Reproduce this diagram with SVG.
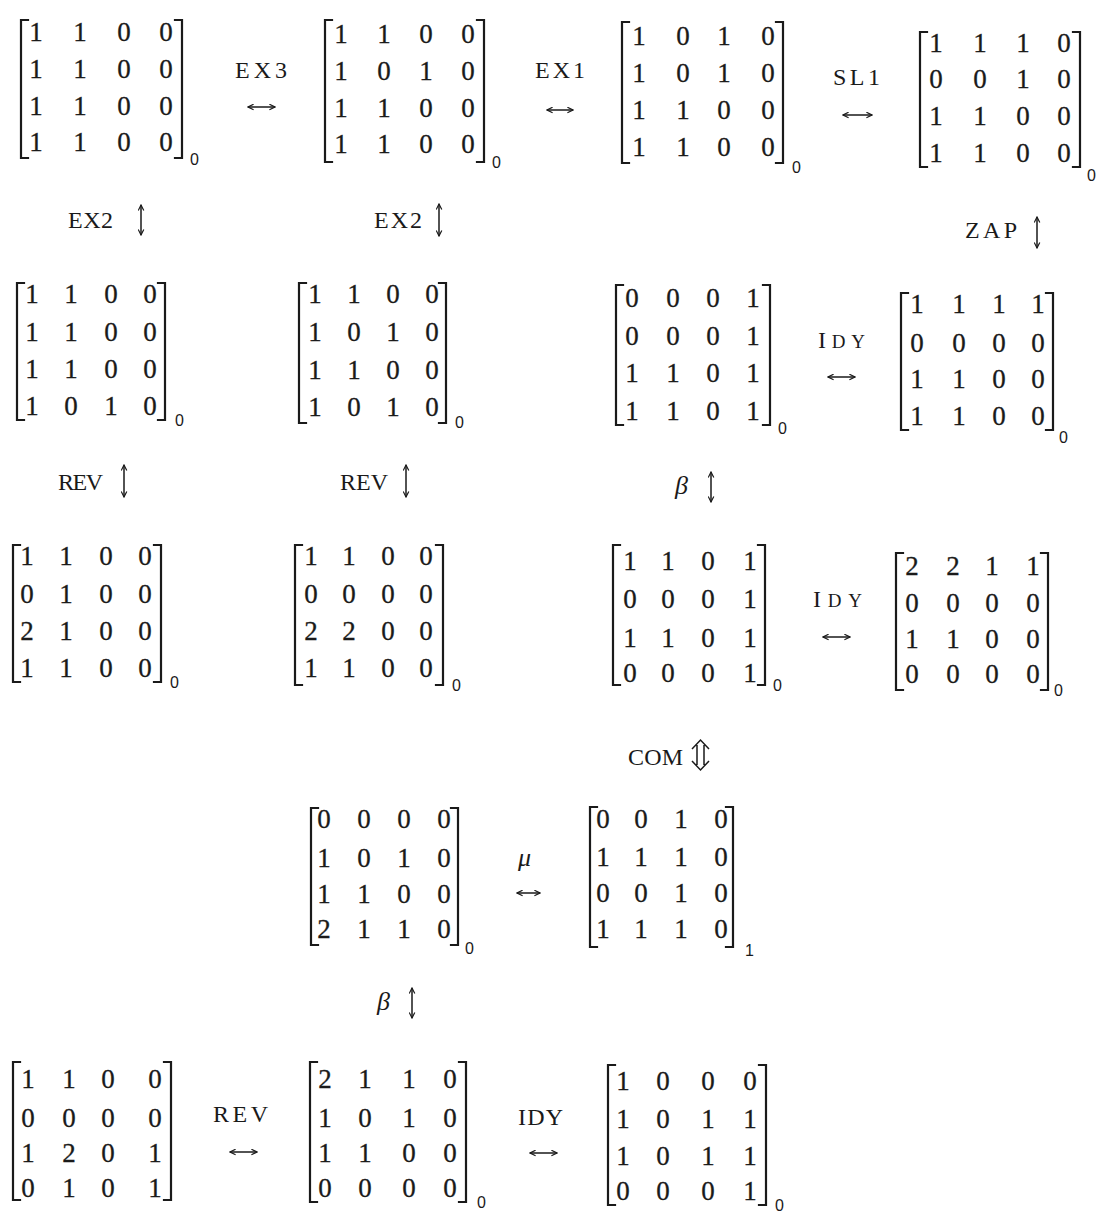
<svg xmlns="http://www.w3.org/2000/svg" width="1104" height="1213" viewBox="0 0 1104 1213">
<style>
.d{font-family:"Liberation Serif","DejaVu Serif",serif;font-size:27px;fill:#1a1a1a;text-anchor:middle;stroke:#1a1a1a;stroke-width:0.3}
.s{font-family:"Liberation Sans","DejaVu Sans",sans-serif;font-size:16px;fill:#1a1a1a}
.br{fill:none;stroke:#1a1a1a;stroke-width:2.2;stroke-linecap:square}
.lb{font-family:"Liberation Serif","DejaVu Serif",serif;font-size:24px;fill:#1a1a1a}
.gr{font-family:"Liberation Serif","DejaVu Serif",serif;font-size:26px;font-style:italic;fill:#1a1a1a}
.ar{fill:none;stroke:#1a1a1a;stroke-width:1.5}
</style>
<defs>
<marker id="ah" viewBox="0 0 10 10" refX="9" refY="5" markerWidth="7" markerHeight="7" markerUnits="userSpaceOnUse" orient="auto-start-reverse">
<path d="M1,1 L9,5 L1,9" fill="none" stroke="#1a1a1a" stroke-width="1.7"/>
</marker>
</defs>
<rect width="1104" height="1213" fill="#fff"/>

<g id="m1">
<path class="br" d="M28,20 H21 V158 H28 M175,20 H182 V158 H175"/>
<text class="d" x="36 80 124 166" y="41">1100</text>
<text class="d" x="36 80 124 166" y="78">1100</text>
<text class="d" x="36 80 124 166" y="115">1100</text>
<text class="d" x="36 80 124 166" y="151">1100</text>
<text class="s" x="190" y="165">0</text>
</g>
<g id="m2">
<path class="br" d="M332,20 H325 V162 H332 M477,20 H484 V162 H477"/>
<text class="d" x="341 384 426 468" y="43">1100</text>
<text class="d" x="341 384 426 468" y="80">1010</text>
<text class="d" x="341 384 426 468" y="117">1100</text>
<text class="d" x="341 384 426 468" y="153">1100</text>
<text class="s" x="492" y="168">0</text>
</g>
<g id="m3">
<path class="br" d="M629,22 H622 V163 H629 M776,22 H783 V163 H776"/>
<text class="d" x="639 683 724 768" y="45">1010</text>
<text class="d" x="639 683 724 768" y="82">1010</text>
<text class="d" x="639 683 724 768" y="119">1100</text>
<text class="d" x="639 683 724 768" y="156">1100</text>
<text class="s" x="792" y="173">0</text>
</g>
<g id="m4">
<path class="br" d="M927,32 H920 V167 H927 M1073,32 H1080 V167 H1073"/>
<text class="d" x="936 980 1023 1064" y="52">1110</text>
<text class="d" x="936 980 1023 1064" y="88">0010</text>
<text class="d" x="936 980 1023 1064" y="125">1100</text>
<text class="d" x="936 980 1023 1064" y="162">1100</text>
<text class="s" x="1087" y="181">0</text>
</g>

<g id="m5">
<path class="br" d="M24,283 H17 V420 H24 M158,283 H165 V420 H158"/>
<text class="d" x="32 71 111 150" y="303">1100</text>
<text class="d" x="32 71 111 150" y="341">1100</text>
<text class="d" x="32 71 111 150" y="378">1100</text>
<text class="d" x="32 71 111 150" y="415">1010</text>
<text class="s" x="175" y="426">0</text>
</g>
<g id="m6">
<path class="br" d="M306,283 H299 V423 H306 M439,283 H446 V423 H439"/>
<text class="d" x="315 354 393 432" y="303">1100</text>
<text class="d" x="315 354 393 432" y="341">1010</text>
<text class="d" x="315 354 393 432" y="379">1100</text>
<text class="d" x="315 354 393 432" y="416">1010</text>
<text class="s" x="455" y="428">0</text>
</g>
<g id="m9">
<path class="br" d="M623,285 H616 V425 H623 M763,285 H770 V425 H763"/>
<text class="d" x="632 673 713 753" y="307">0001</text>
<text class="d" x="632 673 713 753" y="345">0001</text>
<text class="d" x="632 673 713 753" y="382">1101</text>
<text class="d" x="632 673 713 753" y="420">1101</text>
<text class="s" x="778" y="434">0</text>
</g>
<g id="m10">
<path class="br" d="M908,293 H901 V430 H908 M1046,293 H1053 V430 H1046"/>
<text class="d" x="917 959 999 1038" y="313">1111</text>
<text class="d" x="917 959 999 1038" y="352">0000</text>
<text class="d" x="917 959 999 1038" y="388">1100</text>
<text class="d" x="917 959 999 1038" y="425">1100</text>
<text class="s" x="1059" y="443">0</text>
</g>

<g id="m7">
<path class="br" d="M20,545 H13 V682 H20 M154,545 H161 V682 H154"/>
<text class="d" x="27 66 106 145" y="565">1100</text>
<text class="d" x="27 66 106 145" y="603">0100</text>
<text class="d" x="27 66 106 145" y="640">2100</text>
<text class="d" x="27 66 106 145" y="677">1100</text>
<text class="s" x="170" y="688">0</text>
</g>
<g id="m8">
<path class="br" d="M302,545 H295 V685 H302 M436,545 H443 V685 H436"/>
<text class="d" x="311 349 388 426" y="565">1100</text>
<text class="d" x="311 349 388 426" y="603">0000</text>
<text class="d" x="311 349 388 426" y="640">2200</text>
<text class="d" x="311 349 388 426" y="677">1100</text>
<text class="s" x="452" y="691">0</text>
</g>
<g id="m11">
<path class="br" d="M620,545 H613 V685 H620 M758,545 H765 V685 H758"/>
<text class="d" x="630 668 708 750" y="570">1101</text>
<text class="d" x="630 668 708 750" y="608">0001</text>
<text class="d" x="630 668 708 750" y="647">1101</text>
<text class="d" x="630 668 708 750" y="682">0001</text>
<text class="s" x="773" y="691">0</text>
</g>
<g id="m12">
<path class="br" d="M903,553 H896 V690 H903 M1041,553 H1048 V690 H1041"/>
<text class="d" x="912 953 992 1033" y="575">2211</text>
<text class="d" x="912 953 992 1033" y="612">0000</text>
<text class="d" x="912 953 992 1033" y="648">1100</text>
<text class="d" x="912 953 992 1033" y="683">0000</text>
<text class="s" x="1054" y="696">0</text>
</g>

<g id="m13">
<path class="br" d="M318,808 H311 V945 H318 M451,808 H458 V945 H451"/>
<text class="d" x="324 364 404 444" y="828">0000</text>
<text class="d" x="324 364 404 444" y="867">1010</text>
<text class="d" x="324 364 404 444" y="903">1100</text>
<text class="d" x="324 364 404 444" y="938">2110</text>
<text class="s" x="465" y="954">0</text>
</g>
<g id="m14">
<path class="br" d="M597,807 H590 V947 H597 M726,807 H733 V947 H726"/>
<text class="d" x="603 641 681 721" y="828">0010</text>
<text class="d" x="603 641 681 721" y="866">1110</text>
<text class="d" x="603 641 681 721" y="902">0010</text>
<text class="d" x="603 641 681 721" y="938">1110</text>
<text class="s" x="745" y="956">1</text>
</g>

<g id="m15">
<path class="br" d="M20,1062 H13 V1200 H20 M164,1062 H171 V1200 H164"/>
<text class="d" x="28 69 108 155" y="1088">1100</text>
<text class="d" x="28 69 108 155" y="1127">0000</text>
<text class="d" x="28 69 108 155" y="1162">1201</text>
<text class="d" x="28 69 108 155" y="1197">0101</text>
</g>
<g id="m16">
<path class="br" d="M317,1062 H310 V1202 H317 M459,1062 H466 V1202 H459"/>
<text class="d" x="325 365 409 450" y="1088">2110</text>
<text class="d" x="325 365 409 450" y="1127">1010</text>
<text class="d" x="325 365 409 450" y="1162">1100</text>
<text class="d" x="325 365 409 450" y="1197">0000</text>
<text class="s" x="477" y="1208">0</text>
</g>
<g id="m17">
<path class="br" d="M615,1065 H608 V1205 H615 M759,1065 H766 V1205 H759"/>
<text class="d" x="623 663 708 750" y="1090">1000</text>
<text class="d" x="623 663 708 750" y="1128">1011</text>
<text class="d" x="623 663 708 750" y="1165">1011</text>
<text class="d" x="623 663 708 750" y="1200">0001</text>
<text class="s" x="775" y="1211">0</text>
</g>

<g id="labels">
<text class="lb" x="235" y="78" textLength="52" lengthAdjust="spacing">EX3</text>
<text class="lb" x="535" y="78" textLength="50" lengthAdjust="spacing">EX1</text>
<text class="lb" x="833" y="85" textLength="47" lengthAdjust="spacing">SL1</text>
<text class="lb" x="68" y="228" textLength="45" lengthAdjust="spacing">EX2</text>
<text class="lb" x="374" y="228" textLength="48" lengthAdjust="spacing">EX2</text>
<text class="lb" x="965" y="238" textLength="52" lengthAdjust="spacing">ZAP</text>
<text class="lb" x="818" y="348" textLength="47" lengthAdjust="spacing">I<tspan font-size="19">DY</tspan></text>
<text class="lb" x="58" y="490" textLength="45" lengthAdjust="spacing">REV</text>
<text class="lb" x="340" y="490" textLength="48" lengthAdjust="spacing">REV</text>
<text class="gr" x="675" y="494">β</text>
<text class="lb" x="813" y="607" textLength="49" lengthAdjust="spacing">I<tspan font-size="19">DY</tspan></text>
<text class="lb" x="628" y="765" font-size="21" textLength="55" lengthAdjust="spacing">COM</text>
<text class="gr" x="518" y="866" font-size="24">μ</text>
<text class="gr" x="377" y="1010">β</text>
<text class="lb" x="213" y="1122" font-size="20" textLength="55" lengthAdjust="spacing">REV</text>
<text class="lb" x="518" y="1125" font-size="21" textLength="45" lengthAdjust="spacing">IDY</text>
</g>

<g id="connectors">
<path class="ar" marker-start="url(#ah)" marker-end="url(#ah)" d="M248,107 H275"/>
<path class="ar" marker-start="url(#ah)" marker-end="url(#ah)" d="M547,110 H573"/>
<path class="ar" marker-start="url(#ah)" marker-end="url(#ah)" d="M843,115 H872"/>
<path class="ar" marker-start="url(#ah)" marker-end="url(#ah)" d="M828,377 H855"/>
<path class="ar" marker-start="url(#ah)" marker-end="url(#ah)" d="M823,637 H850"/>
<path class="ar" marker-start="url(#ah)" marker-end="url(#ah)" d="M517,893 H540"/>
<path class="ar" marker-start="url(#ah)" marker-end="url(#ah)" d="M230,1152 H257"/>
<path class="ar" marker-start="url(#ah)" marker-end="url(#ah)" d="M530,1153 H557"/>
<path class="ar" marker-start="url(#ah)" marker-end="url(#ah)" d="M141,205 V235"/>
<path class="ar" marker-start="url(#ah)" marker-end="url(#ah)" d="M439,204 V236"/>
<path class="ar" marker-start="url(#ah)" marker-end="url(#ah)" d="M1037,217 V248"/>
<path class="ar" marker-start="url(#ah)" marker-end="url(#ah)" d="M124,465 V497"/>
<path class="ar" marker-start="url(#ah)" marker-end="url(#ah)" d="M406,465 V497"/>
<path class="ar" marker-start="url(#ah)" marker-end="url(#ah)" d="M711,472 V502"/>
<path class="ar" marker-start="url(#ah)" marker-end="url(#ah)" d="M412,988 V1018"/>
<path class="ar" d="M697,745 V765 M704,745 V765 M692,749 L700.5,740 L709,749 M692,761 L700.5,770 L709,761"/>
</g>
</svg>
